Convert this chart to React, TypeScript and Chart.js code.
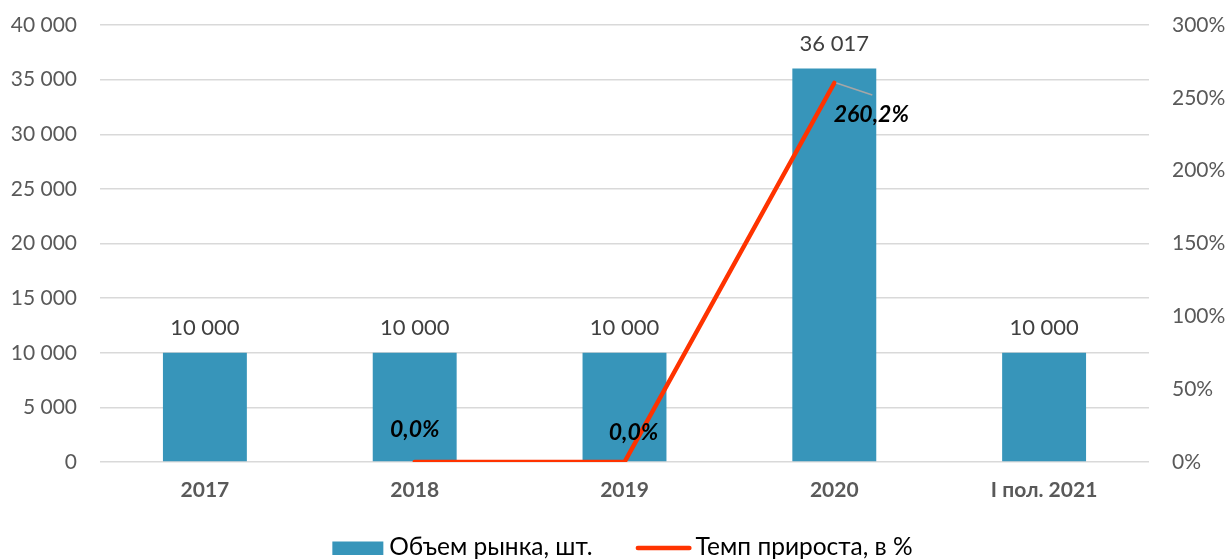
import React, { useEffect, useRef } from "react";
import { Chart, registerables } from "chart.js";

Chart.register(...registerables);

const categories = ["2017", "2018", "2019", "2020", "I пол. 2021"];
const marketVolume = [10000, 10000, 10000, 36017, 10000];
const growthRate: (number | null)[] = [null, 0, 0, 260.2, null];
const seriesNames = ["Объем рынка, шт.", "Темп прироста, в %"];
const leftTicksMax = 40000;
const rightTicksMax = 300;

const BAR_COLOR = "#3795ba";
const LINE_COLOR = "#ff3300";
const FONT = "Lato, 'Open Sans', sans-serif";

const fmtThousands = (v: number) =>
  String(Math.round(v)).replace(/\B(?=(\d{3})+(?!\d))/g, " ");
const fmtPct = (v: number) => v.toFixed(1).replace(".", ",") + "%";

// label offsets for line labels (dx, dy) relative to point
const lineLabelOffsets = [
  [0, 0],
  [0, -32],
  [9, -29],
  [37, 32],
  [0, 0],
];

const labelsPlugin = {
  id: "customLabels",
  afterDatasetsDraw(chart: any) {
    const ctx = chart.ctx;
    ctx.save();
    const barMeta = chart.getDatasetMeta(0);
    ctx.font = `22px ${FONT}`;
    ctx.fillStyle = "#404040";
    ctx.textAlign = "center";
    ctx.textBaseline = "middle";
    barMeta.data.forEach((el: any, i: number) => {
      const v = marketVolume[i];
      ctx.fillText(fmtThousands(v), el.x, el.y - 25);
    });
    const lineMeta = chart.getDatasetMeta(1);
    ctx.font = `italic bold 23px ${FONT}`;
    ctx.fillStyle = "#000000";
    lineMeta.data.forEach((el: any, i: number) => {
      const v = growthRate[i];
      if (v === null || v === undefined) return;
      const [dx, dy] = lineLabelOffsets[i];
      if (dy > 0) {
        ctx.save();
        ctx.strokeStyle = "#a6a6a6";
        ctx.lineWidth = 1.5;
        ctx.beginPath();
        ctx.moveTo(el.x + 2, el.y);
        ctx.lineTo(el.x + 38, el.y + 12);
        ctx.stroke();
        ctx.restore();
      }
      ctx.fillText(fmtPct(v), el.x + dx, el.y + dy);
    });
    ctx.restore();
  },
  afterDraw(chart: any) {
    const ctx = chart.ctx;
    ctx.save();
    ctx.font = `24.5px ${FONT}`;
    ctx.textBaseline = "middle";
    ctx.textAlign = "left";
    const w1 = ctx.measureText(seriesNames[0]).width;
    const w2 = ctx.measureText(seriesNames[1]).width;
    const sw = 51;
    const lw = 56;
    const total = sw + 6 + w1 + 43 + lw + 4 + w2;
    let x = chart.width / 2 + 8 - total / 2;
    const y = 547.5;
    ctx.fillStyle = BAR_COLOR;
    ctx.fillRect(x, y - 6, sw, 13.5);
    x += sw + 6;
    ctx.fillStyle = "#000000";
    ctx.fillText(seriesNames[0], x, y);
    x += w1 + 43;
    ctx.strokeStyle = LINE_COLOR;
    ctx.lineWidth = 4.5;
    ctx.lineCap = "round";
    ctx.beginPath();
    ctx.moveTo(x + 2.25, y + 0.5);
    ctx.lineTo(x + lw - 2.25, y + 0.5);
    ctx.stroke();
    x += lw + 4;
    ctx.fillText(seriesNames[1], x, y);
    ctx.restore();
  },
};

export default function App() {
  const ref = useRef<HTMLCanvasElement | null>(null);
  useEffect(() => {
    if (!ref.current) return;
    const chart = new Chart(ref.current, {
      type: "bar",
      data: {
        labels: categories,
        datasets: [
          {
            type: "bar",
            label: seriesNames[0],
            data: marketVolume,
            backgroundColor: BAR_COLOR,
            borderWidth: 0,
            yAxisID: "y",
            order: 1,
            barPercentage: 0.8,
            categoryPercentage: 0.5,
          } as any,
          {
            type: "line",
            label: seriesNames[1],
            data: growthRate,
            borderColor: LINE_COLOR,
            backgroundColor: LINE_COLOR,
            borderWidth: 4.5,
            borderCapStyle: "round",
            pointRadius: 0,
            yAxisID: "y1",
            order: 0,
            tension: 0,
          } as any,
        ],
      },
      options: {
        animation: false,
        responsive: true,
        maintainAspectRatio: false,
        layout: { padding: { top: 25, left: 0, right: 0, bottom: 47 } },
        plugins: {
          tooltip: { enabled: false },
          legend: { display: false },
        },
        scales: {
          x: {
            grid: { display: false, drawTicks: false },
            border: { display: false },
            ticks: {
              color: "#595959",
              font: { family: FONT, size: 21, weight: "bold" },
              padding: 16,
              maxRotation: 0,
              autoSkip: false,
            },
            afterFit: (s: any) => {
              s.height = 50;
            },
          },
          y: {
            position: "left",
            min: 0,
            max: leftTicksMax,
            grid: { color: "#d9d9d9", lineWidth: 1.5, drawTicks: false },
            border: { display: false },
            ticks: {
              stepSize: 5000,
              color: "#595959",
              font: { family: FONT, size: 21 },
              padding: 23,
              callback: (v: any) => fmtThousands(Number(v)),
            },
            afterFit: (s: any) => {
              s.width = 100;
              s.paddingTop = 0;
              s.paddingBottom = 0;
            },
          },
          y1: {
            position: "right",
            min: 0,
            max: rightTicksMax,
            grid: { drawOnChartArea: false, drawTicks: false },
            border: { display: false },
            ticks: {
              stepSize: 50,
              color: "#595959",
              font: { family: FONT, size: 21 },
              padding: 23,
              callback: (v: any) => `${v}%`,
            },
            afterFit: (s: any) => {
              s.width = 80;
              s.paddingTop = 0;
              s.paddingBottom = 0;
            },
          },
        },
      },
      plugins: [labelsPlugin],
    });
    return () => chart.destroy();
  }, []);
  return (
    <div
      style={{
        position: "fixed",
        left: 0,
        top: 0,
        width: 1229,
        height: 559,
        background: "#ffffff",
      }}
    >
      <canvas ref={ref} />
    </div>
  );
}
